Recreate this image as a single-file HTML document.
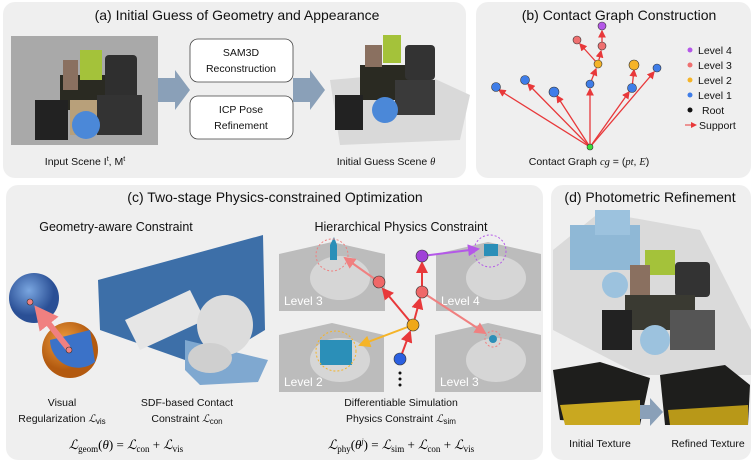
<!DOCTYPE html>
<html><head><meta charset="utf-8"><style>
body{margin:0;background:#fff;width:753px;height:465px;overflow:hidden}
svg{display:block;font-family:"Liberation Sans",sans-serif}
.t{font-size:14px;fill:#111}
.s{font-size:12.5px;fill:#111}
.c{font-size:10.5px;fill:#111}
.m{font-family:"Liberation Serif",serif;font-style:italic}
</style></head><body>
<svg width="753" height="465" viewBox="0 0 753 465">
<defs>
<marker id="ar" markerWidth="6" markerHeight="6" refX="5" refY="3" orient="auto"><path d="M0,0L6,3L0,6z" fill="#e8383a"/></marker>
<marker id="ap" markerWidth="6" markerHeight="6" refX="5" refY="3" orient="auto"><path d="M0,0L6,3L0,6z" fill="#f08080"/></marker>
<marker id="ap2" markerWidth="4" markerHeight="4" refX="3" refY="2" orient="auto"><path d="M0,0L4,2L0,4z" fill="#f08080"/></marker>
<marker id="au" markerWidth="6" markerHeight="6" refX="5" refY="3" orient="auto"><path d="M0,0L6,3L0,6z" fill="#b458e8"/></marker>
<marker id="ao" markerWidth="6" markerHeight="6" refX="5" refY="3" orient="auto"><path d="M0,0L6,3L0,6z" fill="#f5b428"/></marker>
<radialGradient id="gb" cx="40%" cy="35%"><stop offset="0" stop-color="#7aa6e0"/><stop offset="1" stop-color="#2a4f95"/></radialGradient>
<radialGradient id="go" cx="40%" cy="35%"><stop offset="0" stop-color="#f0a040"/><stop offset="1" stop-color="#b35a10"/></radialGradient>
</defs>
<rect x="3" y="2" width="463" height="176" rx="12" fill="#efefef"/>
<rect x="476" y="2" width="275" height="176" rx="12" fill="#efefef"/>
<rect x="6" y="185" width="537" height="275" rx="12" fill="#efefef"/>
<rect x="551" y="185" width="200" height="275" rx="12" fill="#efefef"/>

<!-- (a) -->
<text class="t" x="237" y="20" text-anchor="middle">(a) Initial Guess of Geometry and Appearance</text>
<rect x="11" y="36" width="147" height="109" fill="#a9a9a9"/>
<rect x="60" y="75" width="55" height="35" fill="#2a2a22"/>
<rect x="70" y="100" width="40" height="35" fill="#b8a07a"/>
<rect x="80" y="50" width="22" height="30" fill="#a4c23a"/>
<rect x="63" y="60" width="15" height="30" fill="#8a7060"/>
<rect x="105" y="55" width="32" height="45" rx="4" fill="#2f2f2f"/>
<rect x="97" y="95" width="45" height="40" fill="#333"/>
<rect x="35" y="100" width="33" height="40" fill="#222"/>
<circle cx="86" cy="125" r="14" fill="#4b88d8"/>
<polygon points="158,78 175,78 175,70 190,90 175,110 175,102 158,102" fill="#8aa0b8"/>
<rect x="190" y="39" width="103" height="43" rx="8" fill="#fff" stroke="#444" stroke-width="0.8"/>
<text class="c" x="241" y="56" text-anchor="middle">SAM3D</text>
<text class="c" x="241" y="72" text-anchor="middle">Reconstruction</text>
<rect x="190" y="96" width="103" height="43" rx="8" fill="#fff" stroke="#444" stroke-width="0.8"/>
<text class="c" x="241" y="113" text-anchor="middle">ICP Pose</text>
<text class="c" x="241" y="129" text-anchor="middle">Refinement</text>
<polygon points="293,78 310,78 310,70 325,90 310,110 310,102 293,102" fill="#8aa0b8"/>
<polygon points="330,80 420,72 470,95 460,140 340,145" fill="#d9d9d9"/>
<rect x="360" y="65" width="50" height="35" fill="#2a2a22"/>
<rect x="383" y="35" width="18" height="28" fill="#a4c23a"/>
<rect x="365" y="45" width="17" height="22" fill="#8a7060"/>
<rect x="405" y="45" width="30" height="35" rx="4" fill="#333"/>
<rect x="395" y="80" width="40" height="35" fill="#3a3a3a"/>
<rect x="335" y="95" width="28" height="35" fill="#222"/>
<circle cx="385" cy="110" r="13" fill="#4b88d8"/>
<text class="c" x="85" y="165" text-anchor="middle">Input Scene I<tspan dy="-4" font-size="7">t</tspan><tspan dy="4">, M</tspan><tspan dy="-4" font-size="7">t</tspan></text>
<text class="c" x="386" y="165" text-anchor="middle">Initial Guess Scene <tspan class="m">θ</tspan></text>

<!-- (b) -->
<text class="t" x="619" y="20" text-anchor="middle">(b) Contact Graph Construction</text>
<g stroke="#e8383a" stroke-width="1.3" marker-end="url(#ar)">
<line x1="590" y1="147" x2="499" y2="90"/><line x1="590" y1="147" x2="528" y2="84"/>
<line x1="590" y1="147" x2="557" y2="96"/><line x1="590" y1="147" x2="590" y2="89"/>
<line x1="590" y1="147" x2="629" y2="92"/><line x1="590" y1="147" x2="654" y2="72"/>
<line x1="590" y1="84" x2="596" y2="69"/><line x1="598" y1="64" x2="601" y2="51"/>
<line x1="598" y1="64" x2="580" y2="44"/><line x1="602" y1="46" x2="602" y2="31"/>
<line x1="632" y1="88" x2="634" y2="70"/>
</g>
<g stroke="#333" stroke-width="0.6">
<circle cx="602" cy="26" r="4" fill="#b458e8"/>
<circle cx="577" cy="40" r="4" fill="#ef7070"/><circle cx="602" cy="46" r="4" fill="#ef7070"/>
<circle cx="598" cy="64" r="4" fill="#f5b428"/><circle cx="634" cy="65" r="5" fill="#f5b428"/>
<circle cx="657" cy="68" r="4" fill="#3f7de8"/><circle cx="496" cy="87" r="4.5" fill="#3f7de8"/>
<circle cx="525" cy="80" r="4.5" fill="#3f7de8"/><circle cx="554" cy="92" r="5" fill="#3f7de8"/>
<circle cx="590" cy="84" r="4" fill="#3f7de8"/><circle cx="632" cy="88" r="4.5" fill="#3f7de8"/>
<circle cx="590" cy="147" r="3" fill="#3ce03c"/>
</g>
<circle cx="690" cy="50" r="2.5" fill="#b458e8"/><text class="c" x="698" y="54">Level 4</text>
<circle cx="690" cy="65" r="2.5" fill="#ef7070"/><text class="c" x="698" y="69">Level 3</text>
<circle cx="690" cy="80" r="2.5" fill="#f5b428"/><text class="c" x="698" y="84">Level 2</text>
<circle cx="690" cy="95" r="2.5" fill="#3f7de8"/><text class="c" x="698" y="99">Level 1</text>
<circle cx="690" cy="110" r="2.5" fill="#111"/><text class="c" x="702" y="114">Root</text>
<line x1="685" y1="125" x2="696" y2="125" stroke="#e8383a" stroke-width="1" marker-end="url(#ar)"/><text class="c" x="699" y="129">Support</text>
<text class="c" x="589" y="165" text-anchor="middle">Contact Graph <tspan class="m">cg</tspan> = (<tspan class="m">pt</tspan>, <tspan class="m">E</tspan>)</text>

<!-- (c) -->
<text class="t" x="275" y="202" text-anchor="middle">(c) Two-stage Physics-constrained Optimization</text>
<text class="s" x="116" y="231" text-anchor="middle">Geometry-aware Constraint</text>
<text class="s" x="401" y="231" text-anchor="middle">Hierarchical Physics Constraint</text>
<circle cx="34" cy="298" r="25" fill="url(#gb)"/>
<circle cx="70" cy="350" r="28" fill="url(#go)"/>
<path d="M50,340 A28,28 0 0 0 95,362 L90,330z" fill="#3b72c8"/>
<line x1="68" y1="348" x2="38" y2="310" stroke="#f08080" stroke-width="6" marker-end="url(#ap2)"/>
<circle cx="30" cy="302" r="3" fill="#f08080" stroke="#333" stroke-width="0.6"/>
<circle cx="69" cy="350" r="3" fill="#f08080" stroke="#333" stroke-width="0.6"/>
<polygon points="98,280 263,235 265,330 195,372 185,360 100,330" fill="#3d6fa8"/>
<polygon points="185,340 268,360 258,382 200,385 185,370" fill="#7fa8d0"/>
<polygon points="125,320 190,290 205,320 140,350" fill="#e6e6e6"/>
<ellipse cx="225" cy="325" rx="28" ry="30" fill="#dcdcdc"/>
<ellipse cx="210" cy="358" rx="22" ry="15" fill="#cfcfcf"/>
<g fill="#bcbcbc">
<polygon points="279,254 332,242 385,254 385,311 279,311"/>
<polygon points="436,254 488,242 541,254 541,311 436,311"/>
<polygon points="279,335 332,323 384,335 384,392 279,392"/>
<polygon points="435,335 488,323 541,335 541,392 435,392"/>
</g>
<g fill="#d6d6d6"><ellipse cx="340" cy="278" rx="30" ry="22"/><ellipse cx="496" cy="278" rx="30" ry="22"/><ellipse cx="340" cy="360" rx="30" ry="22"/><ellipse cx="496" cy="360" rx="30" ry="22"/></g>
<rect x="320" y="340" width="32" height="25" fill="#2b8fb8"/>
<path d="M330,245 l4,-8 l3,8 l0,15 l-7,0z" fill="#2b8fb8"/>
<rect x="484" y="244" width="14" height="12" fill="#2b8fb8"/>
<circle cx="493" cy="339" r="4" fill="#2b8fb8"/>
<g fill="none" stroke-dasharray="2,2" stroke-width="1">
<circle cx="332" cy="255" r="16" stroke="#f08080"/><circle cx="490" cy="251" r="16" stroke="#b458e8"/>
<circle cx="336" cy="351" r="20" stroke="#f5b428"/><circle cx="493" cy="339" r="8" stroke="#f08080"/>
</g>
<g fill="#fff" font-size="12"><text x="284" y="305">Level 3</text><text x="441" y="305">Level 4</text><text x="284" y="386">Level 2</text><text x="440" y="386">Level 3</text></g>
<line x1="379" y1="282" x2="345" y2="258" stroke="#f08080" stroke-width="2" marker-end="url(#ap)"/>
<line x1="422" y1="256" x2="478" y2="249" stroke="#b458e8" stroke-width="2" marker-end="url(#au)"/>
<line x1="422" y1="292" x2="485" y2="333" stroke="#f08080" stroke-width="2" marker-end="url(#ap)"/>
<line x1="413" y1="325" x2="360" y2="345" stroke="#f5b428" stroke-width="2" marker-end="url(#ao)"/>
<g stroke="#e8383a" stroke-width="2" marker-end="url(#ar)">
<line x1="413" y1="325" x2="383" y2="289"/><line x1="413" y1="325" x2="420" y2="299"/>
<line x1="422" y1="292" x2="422" y2="263"/><line x1="400" y1="359" x2="410" y2="332"/>
</g>
<g stroke="#333" stroke-width="0.6">
<circle cx="422" cy="256" r="6" fill="#a040d8"/><circle cx="379" cy="282" r="6" fill="#ef6868"/>
<circle cx="422" cy="292" r="6" fill="#ef6868"/><circle cx="413" cy="325" r="6" fill="#f0a818"/>
<circle cx="400" cy="359" r="6" fill="#2a5fe0"/>
</g>
<g fill="#111"><circle cx="400" cy="373" r="1.5"/><circle cx="400" cy="379" r="1.5"/><circle cx="400" cy="385" r="1.5"/></g>
<text class="c" x="62" y="406" text-anchor="middle">Visual</text>
<text class="c" x="62" y="422" text-anchor="middle">Regularization <tspan class="m">ℒ</tspan><tspan font-size="8" dy="2">vis</tspan></text>
<text class="c" x="187" y="406" text-anchor="middle">SDF-based Contact</text>
<text class="c" x="187" y="422" text-anchor="middle">Constraint <tspan class="m">ℒ</tspan><tspan font-size="8" dy="2">con</tspan></text>
<text class="c" x="401" y="406" text-anchor="middle">Differentiable Simulation</text>
<text class="c" x="401" y="422" text-anchor="middle">Physics Constraint <tspan class="m">ℒ</tspan><tspan font-size="8" dy="2">sim</tspan></text>
<text x="126" y="449" text-anchor="middle" font-size="13" font-family="Liberation Serif,serif"><tspan font-style="italic">ℒ</tspan><tspan font-size="9" dy="3">geom</tspan><tspan dy="-3">(<tspan font-style="italic">θ</tspan>) = <tspan font-style="italic">ℒ</tspan></tspan><tspan font-size="9" dy="3">con</tspan><tspan dy="-3"> + <tspan font-style="italic">ℒ</tspan></tspan><tspan font-size="9" dy="3">vis</tspan></text>
<text x="401" y="449" text-anchor="middle" font-size="13" font-family="Liberation Serif,serif"><tspan font-style="italic">ℒ</tspan><tspan font-size="9" dy="3">phy</tspan><tspan dy="-3">(<tspan font-style="italic">θ</tspan></tspan><tspan font-size="8" dy="-5" font-style="italic">j</tspan><tspan dy="5">) = <tspan font-style="italic">ℒ</tspan></tspan><tspan font-size="9" dy="3">sim</tspan><tspan dy="-3"> + <tspan font-style="italic">ℒ</tspan></tspan><tspan font-size="9" dy="3">con</tspan><tspan dy="-3"> + <tspan font-style="italic">ℒ</tspan></tspan><tspan font-size="9" dy="3">vis</tspan></text>

<!-- (d) -->
<text class="t" x="650" y="202" text-anchor="middle">(d) Photometric Refinement</text>
<polygon points="553,250 600,212 700,230 751,330 751,375 640,375 553,330" fill="#dadada"/>
<rect x="570" y="225" width="70" height="45" fill="#8fb8d6"/>
<rect x="595" y="210" width="35" height="25" fill="#9cc2de"/>
<circle cx="615" cy="285" r="13" fill="#9cc2de"/>
<rect x="645" y="250" width="30" height="25" fill="#a4c23a"/>
<rect x="630" y="265" width="20" height="35" fill="#8a7060"/>
<rect x="675" y="262" width="35" height="35" rx="4" fill="#333"/>
<rect x="625" y="295" width="70" height="35" fill="#3a3a32"/>
<rect x="670" y="310" width="45" height="40" fill="#555"/>
<rect x="602" y="310" width="30" height="40" fill="#222"/>
<circle cx="655" cy="340" r="15" fill="#9cc2de"/>
<polygon points="553,370 600,362 650,378 640,425 560,420" fill="#1e1e1c"/>
<polygon points="560,405 640,400 640,425 565,425" fill="#c9a820"/>
<polygon points="660,375 725,365 750,385 748,425 665,425" fill="#1e1e1c"/>
<polygon points="668,410 748,405 748,425 670,425" fill="#b89818"/>
<polygon points="640,405 650,405 650,398 663,412 650,426 650,419 640,419" fill="#8aa0b8"/>
<text class="c" x="600" y="447" text-anchor="middle">Initial Texture</text>
<text class="c" x="708" y="447" text-anchor="middle">Refined Texture</text>
</svg>
</body></html>
